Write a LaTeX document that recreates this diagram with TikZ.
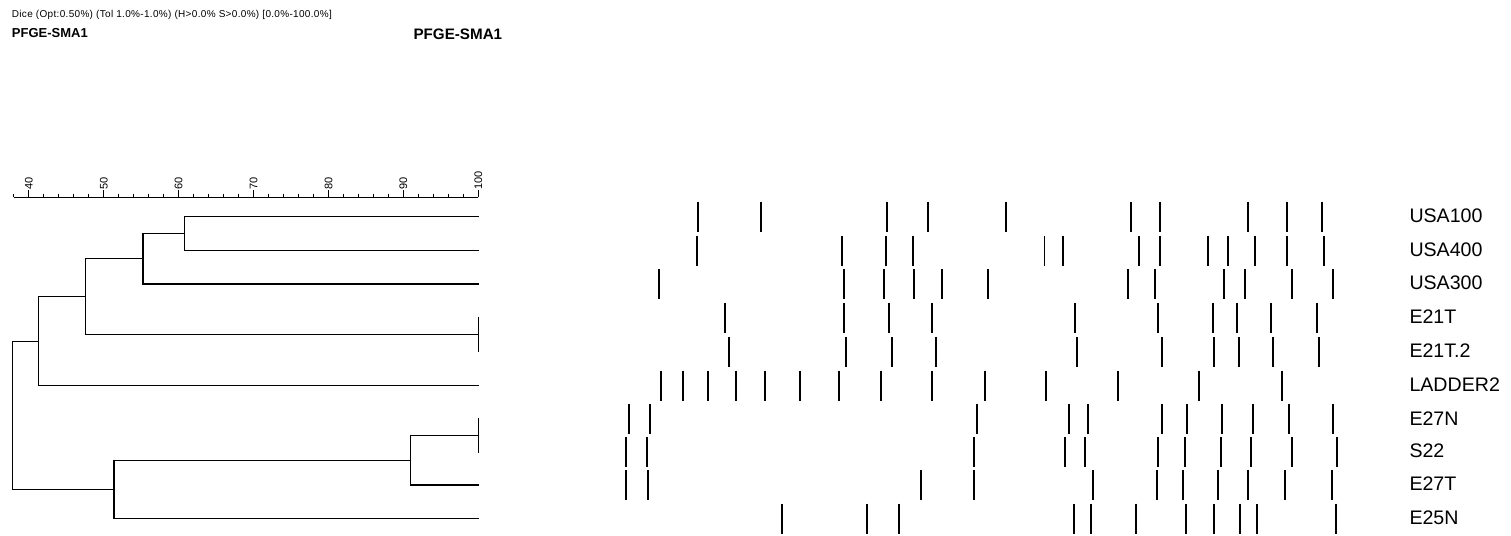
\documentclass[tikz,border=0pt]{standalone}
\usepackage{fontspec}
\setmainfont{Liberation Sans}
\begin{document}
\begin{tikzpicture}[x=1pt,y=-1pt,
  tree/.style={line width=1.3pt,line cap=rect},
  band/.style={line width=1.4pt},
  lab/.style={anchor=west,inner sep=0pt,font=\fontsize{19.6}{20}\selectfont},
  axlab/.style={rotate=90,anchor=west,inner sep=0pt,font=\fontsize{11}{12}\selectfont}]
\useasboundingbox (0,0) rectangle (1511,535);
% header
\node[anchor=base west,inner sep=0pt,font=\fontsize{10}{11}\selectfont\addfontfeatures{LetterSpace=3.2}] (hdr) at (11.7,17.3) {Dice (Opt:0.50\%) (Tol 1.0\%-1.0\%) (H>0.0\% S>0.0\%) [0.0\%-100.0\%]};
\node[anchor=base west,inner sep=0pt,font=\fontsize{13}{14}\selectfont\bfseries] (t1) at (11.7,37.3) {PFGE-SMA1};
\node[anchor=base west,inner sep=0pt,font=\fontsize{15.2}{16}\selectfont\bfseries] (t2) at (413.3,40) {PFGE-SMA1};
% axis
\def\axy{197}
\coordinate (ax0) at (13.9,\axy);
\coordinate (ax1) at (478.3,\axy);
\draw[line width=1pt] (ax0) -- (ax1);
\foreach \v in {38,42,44,46,48,52,54,56,58,62,64,66,68,72,74,76,78,82,84,86,88,92,94,96,98}{
  \draw[line width=1pt] ({478.3-(100-\v)*7.49},\axy) -- ++(0,-2.8);
}
\foreach \v in {40,50,...,100}{
  \draw[line width=1pt] ({478.3-(100-\v)*7.49},\axy) -- ++(0,-7.5);
  \node[axlab] (ax\v) at ({478.3-(100-\v)*7.49},189.5) {\v};
}
% leaves
\def\xe{478.3}
\coordinate (L1) at (\xe,216.3);
\coordinate (L2) at (\xe,250.5);
\coordinate (L3) at (\xe,284);
\coordinate (L4) at (\xe,317.7);
\coordinate (L5) at (\xe,351.8);
\coordinate (L6) at (\xe,385.6);
\coordinate (L7) at (\xe,419.1);
\coordinate (L8) at (\xe,451.9);
\coordinate (L9) at (\xe,485);
\coordinate (L10) at (\xe,518.8);
% internal nodes
\coordinate (A) at (184.3,233.4);
\coordinate (B) at (143,258.7);
\coordinate (E21) at (\xe,334.75);
\coordinate (C) at (85.3,296.7);
\coordinate (D) at (38.7,341.2);
\coordinate (E) at (\xe,435.5);
\coordinate (F) at (410.7,460.25);
\coordinate (G) at (114,489.5);
\coordinate (R) at (12.7,415.35);
\draw[tree] (A) |- (L1); \draw[tree] (A) |- (L2);
\draw[tree] (B) |- (A); \draw[tree] (B) |- (L3);
\draw[tree] (L4) -- (L5);
\draw[tree] (C) |- (B); \draw[tree] (C) |- (E21);
\draw[tree] (D) |- (C); \draw[tree] (D) |- (L6);
\draw[tree] (L7) -- (L8);
\draw[tree] (F) |- (E); \draw[tree] (F) |- (L9);
\draw[tree] (G) |- (F); \draw[tree] (G) |- (L10);
\draw[tree] (R) |- (D); \draw[tree] (R) |- (G);
% bands
\foreach \y/\xs in {
 216.5/{698,761,887,928,1006,1131,1160,1248,1287,1322},
 250.6/{697,842,886,913,1044.5,1063,1139,1160,1208,1228,1255,1287,1324},
 284/{659,844,884,914,942,988,1128,1155,1224,1245,1292,1333},
 317.9/{725,844,889,932,1075,1158,1213,1237,1271,1317},
 351.9/{729,846,892,936,1077,1162,1214,1239,1273,1319},
 385.5/{661,683,708,736,765,800,839,881,932,985,1046,1118,1199,1282},
 419.3/{629,650,977,1069,1088,1162,1187,1222,1253,1289,1333},
 452/{626,647,974,1065,1085,1158,1185,1221,1251,1292,1337},
 485/{626,648,921,974,1093,1157,1183,1218,1248,1285,1332},
 518.7/{782,867,899,1074,1091,1136,1186,1214,1240,1257,1336}}{
  \foreach \x in \xs { \draw[band] (\x,\y-15) -- (\x,\y+15); }
}
% labels
\node[lab] (n1) at (1409.3,215.5) {USA100};
\node[lab] (n2) at (1409.3,249.6) {USA400};
\node[lab] (n3) at (1409.3,283) {USA300};
\node[lab] (n4) at (1409.3,316.9) {E21T};
\node[lab] (n5) at (1409.3,350.9) {E21T.2};
\node[lab] (n6) at (1409.3,384.5) {LADDER2};
\node[lab] (n7) at (1409.3,418.3) {E27N};
\node[lab] (n8) at (1409.3,451) {S22};
\node[lab] (n9) at (1409.3,484) {E27T};
\node[lab] (n10) at (1409.3,517.7) {E25N};
\end{tikzpicture}
\end{document}
